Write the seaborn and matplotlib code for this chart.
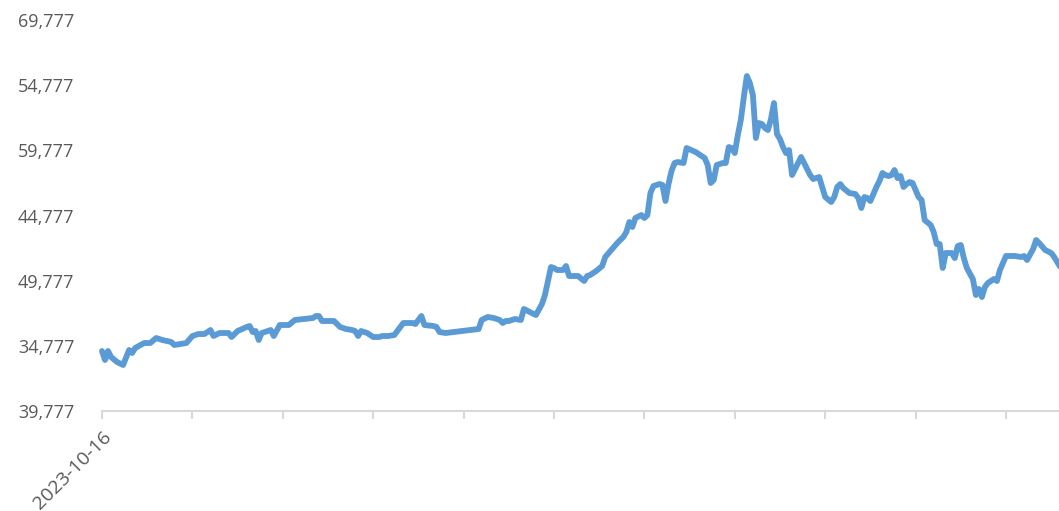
import matplotlib
matplotlib.use("Agg")
import matplotlib.pyplot as plt
import seaborn as sns
import pandas as pd

# data (days after the start date, index level)
start_date = "2023-10-16"
day_offset = [0, 1, 2, 3, 5, 7, 9, 10, 11, 14, 16, 18, 20, 23, 24, 26, 28, 30, 32, 34,
              36, 37, 39, 42, 43, 45, 48, 49, 50, 51, 52, 53, 56, 57, 59, 62, 64, 67, 70, 71,
              72, 73, 76, 77, 79, 81, 83, 84, 85, 86, 88, 90, 92, 93, 95, 97, 98, 100, 103, 104,
              106, 107, 110, 111, 112, 114, 125, 126, 128, 130, 132, 133, 134, 135, 137, 139, 140, 142, 144, 146,
              147, 149, 150, 151, 153, 154, 155, 156, 158, 160, 161, 162, 164, 166, 167, 169, 171, 173, 174, 175,
              176, 177, 179, 180, 181, 182, 183, 185, 186, 187, 188, 189, 190, 191, 193, 194, 197, 200, 201, 202,
              203, 204, 206, 207, 208, 209, 210, 211, 212, 213, 214, 215, 216, 217, 218, 219, 220, 221, 222, 223,
              224, 225, 226, 227, 228, 229, 232, 233, 235, 236, 238, 239, 240, 242, 243, 244, 245, 246, 248, 250,
              251, 252, 253, 254, 255, 257, 258, 259, 260, 261, 262, 263, 264, 265, 266, 267, 268, 269, 270, 271,
              272, 273, 275, 276, 277, 278, 279, 280, 282, 283, 284, 285, 286, 287, 289, 290, 291, 292, 293, 294,
              296, 297, 298, 300, 303, 305, 306, 307, 309, 310, 311, 313, 315, 316, 317, 319]
index_value = [44380, 43690, 44380, 43920, 43536, 43306, 44457, 44227, 44610, 44994, 44994, 45378, 45224, 45071, 44841, 44917, 44994, 45531, 45684, 45684,
               45991, 45531, 45761, 45761, 45454, 45915, 46222, 46298, 45838, 45915, 45224, 45761, 45991, 45531, 46375, 46375, 46759, 46835, 46912, 47065,
               47065, 46682, 46682, 46682, 46222, 46068, 45991, 45915, 45531, 45915, 45761, 45454, 45454, 45531, 45531, 45608, 45915, 46529, 46529, 46452,
               47065, 46375, 46298, 46222, 45838, 45761, 46068, 46759, 46989, 46912, 46759, 46529, 46682, 46682, 46835, 46759, 47602, 47372, 47142, 47986,
               48677, 50825, 50748, 50595, 50595, 50902, 50134, 50134, 50134, 49751, 50134, 50211, 50518, 50902, 51592, 52129, 52666, 53126, 53510, 54277,
               53893, 54584, 54814, 54584, 54814, 56502, 57039, 57192, 57116, 55888, 57192, 58190, 58804, 58880, 58804, 59954, 59647, 59187, 58650, 57269,
               57500, 58650, 58804, 58804, 60031, 59954, 59570, 60951, 62102, 63867, 65478, 64941, 64020, 60721, 61872, 61795, 61488, 61335, 62179, 63407,
               61028, 60645, 60031, 59570, 59800, 57883, 59264, 58804, 57883, 57576, 57730, 56962, 56195, 55811, 56195, 56962, 57192, 56885, 56502, 56425,
               56118, 55351, 56195, 56118, 55888, 56962, 57423, 58036, 57883, 57806, 57883, 58266, 57653, 57806, 56962, 57192, 57346, 57269, 56732, 56195,
               55965, 54430, 54047, 53510, 52589, 52589, 50748, 51899, 51899, 51515, 52436, 52513, 51515, 50748, 49904, 48677, 49137, 48523, 49290, 49597,
               49904, 49751, 50595, 51669, 51669, 51592, 51669, 51362, 52206, 52896, 52666, 52129, 51899, 51592, 51208, 50441]

y_ticks = [39777, 44777, 49777, 54777, 59777, 64777, 69777]
y_tick_labels = ["39,777", "34,777", "49,777", "44,777", "59,777", "54,777", "69,777"]
x_tick_labels = ["2023-10-16", "", "", "", "", "", "", "", "", "", ""]

df = pd.DataFrame({
    "date": pd.to_datetime(start_date) + pd.to_timedelta(day_offset, unit="D"),
    "value": index_value,
})

sns.set_theme(style="white")
plt.rcParams["font.family"] = ["Open Sans", "DejaVu Sans"]

fig = plt.figure(figsize=(10.59, 5.11), dpi=100)
ax = fig.add_axes([102 / 1059, 100 / 511, 957 / 1059, 391 / 511])

sns.lineplot(data=df, x="date", y="value", ax=ax, color="#5B9BD5",
             linewidth=4.2, solid_joinstyle="round", solid_capstyle="round", clip_on=False)

start = pd.to_datetime(start_date)
ax.set_xlim(start, start + pd.Timedelta(days=957 / 3.0133))
ax.set_ylim(y_ticks[0], y_ticks[-1])

ax.set_yticks(y_ticks)
ax.set_yticklabels(y_tick_labels, fontsize=13, color="#595959")
x_ticks = [start + pd.Timedelta(days=30 * i) for i in range(len(x_tick_labels))]
ax.set_xticks(x_ticks)
ax.set_xticklabels(x_tick_labels, fontsize=14, color="#595959",
                   rotation=45, ha="right", rotation_mode="anchor")

ax.set_xlabel("")
ax.set_ylabel("")
for side in ["left", "right", "top"]:
    ax.spines[side].set_visible(False)
ax.spines["bottom"].set_color("#D9D9D9")
ax.spines["bottom"].set_linewidth(1.5)
ax.tick_params(axis="x", bottom=True, length=6, width=1.5, color="#D9D9D9",
               direction="out", pad=6)
ax.tick_params(axis="y", left=False, length=0, pad=20)
ax.grid(False)

fig.savefig("out.png", dpi=100)
